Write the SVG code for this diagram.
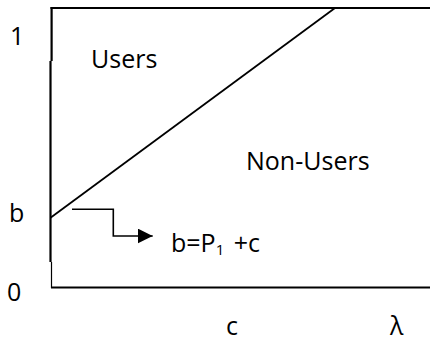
<svg xmlns="http://www.w3.org/2000/svg" width="430" height="342" viewBox="0 0 430 342">
  <style>
    .ln { stroke: #000; fill: none; stroke-linecap: butt; }
    .ax { stroke-width: 2.2; }
    .lbl { font-family: "Open Sans", "Liberation Sans", sans-serif; font-size: 25px; fill: #000; }
  </style>
  <defs>
    <marker id="arrowhead" markerWidth="16" markerHeight="16" refX="15" refY="7.5" orient="auto" markerUnits="userSpaceOnUse">
      <path d="M0,0 L15,7.5 L0,15 Z" fill="#000"/>
    </marker>
  </defs>
  <rect width="430" height="342" fill="#fff"/>

  <!-- frame: top edge, left axis, bottom axis -->
  <g id="axes">
    <line class="ln ax" x1="50.5" y1="8" x2="430" y2="8"/>
    <line class="ln ax" x1="51.6" y1="7" x2="51.6" y2="61"/>
    <line class="ln ax" x1="50.5" y1="61" x2="50.5" y2="262"/>
    <line class="ln" stroke-width="1.2" x1="51.5" y1="262" x2="51.5" y2="288"/>
    <line class="ln ax" x1="51" y1="287.5" x2="430" y2="287.5"/>
  </g>

  <!-- boundary between users and non-users -->
  <g id="boundary">
    <line class="ln" stroke-width="1.8" x1="50.5" y1="217.7" x2="335" y2="8"/>
  </g>

  <!-- elbow pointer to the boundary equation -->
  <g id="connectors">
    <polyline class="ln" stroke-width="1.6" points="72,209.3 113.3,209.3 113.3,236 152.7,236" marker-end="url(#arrowhead)"/>
  </g>

  <g id="axis-labels">
    <text class="lbl" x="10" y="45">1</text>
    <text class="lbl" x="9" y="222">b</text>
    <text class="lbl" x="7" y="301">0</text>
    <text class="lbl" x="226" y="335">c</text>
    <text class="lbl" x="390" y="335">λ</text>
  </g>

  <g id="region-users">
    <text class="lbl" x="91" y="68">Users</text>
  </g>
  <g id="region-non-users">
    <text class="lbl" x="246" y="170">Non-Users</text>
  </g>
  <g id="equation">
    <text class="lbl" x="171" y="252">b=P<tspan font-size="15" dy="3">1</tspan><tspan dx="3" dy="-3"> +c</tspan></text>
  </g>
</svg>
